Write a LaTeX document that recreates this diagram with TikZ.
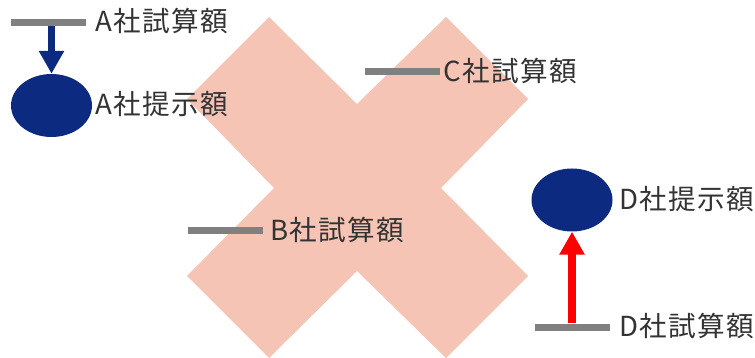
\documentclass[tikz,border=0pt]{standalone}
\usepackage{fontspec}
\setmainfont{Noto Sans CJK JP}[LetterSpace=5]
\usetikzlibrary{arrows.meta}
\definecolor{navy}{HTML}{0B2A80}
\definecolor{salmon}{HTML}{F6C4B4}
\definecolor{bargray}{HTML}{808080}
\definecolor{txt}{HTML}{333333}
\tikzset{
  bar/.style={fill=bargray, draw=none, minimum width=75pt, minimum height=7pt, inner sep=0pt},
  dot/.style={ellipse, fill=navy, draw=none, minimum width=81pt, minimum height=63pt, inner sep=0pt},
  lbl/.style={anchor=west, inner sep=0pt, text=txt, font=\fontsize{27.6}{32}\selectfont},
  bigarrow/.style={line width=7.5pt, -{Triangle[length=23pt,width=24pt]}}
}
\usetikzlibrary{shapes.geometric}
\begin{document}
\begin{tikzpicture}[x=1pt,y=-1pt]
\useasboundingbox (0,0) rectangle (755,358);
% big cross
\fill[salmon] (269,17) -- (357,104) -- (446,17) -- (528,99) -- (441,188) -- (528,276)
  -- (446,358) -- (357,271) -- (269,358) -- (187,276) -- (274,188) -- (187,99) -- cycle;
% A
\node[bar] (Abar) at (48.5,22.5) {};
\node[dot] (Aell) at (51.5,105.5) {};
\node[lbl] (Atxt) at (95,21) {A社試算額};
\node[lbl] (Aptxt) at (95,104) {A社提示額};
\draw[navy, bigarrow] (Aell.north |- Abar.south) -- (Aell.north);
% C
\node[bar] (Cbar) at (402,72) {};
\node[lbl] (Ctxt) at (443,71) {C社試算額};
% B
\node[bar] (Bbar) at (225.5,231) {};
\node[lbl] (Btxt) at (270,230) {B社試算額};
% D
\node[dot] (Dell) at (572,200) {};
\node[lbl] (Dptxt) at (619,199) {D社提示額};
\node[bar] (Dbar) at (572.5,327) {};
\node[lbl] (Dtxt) at (619,326) {D社試算額};
\draw[red, bigarrow] (Dell.south |- Dbar.north) -- (Dell.south);
\end{tikzpicture}
\end{document}
